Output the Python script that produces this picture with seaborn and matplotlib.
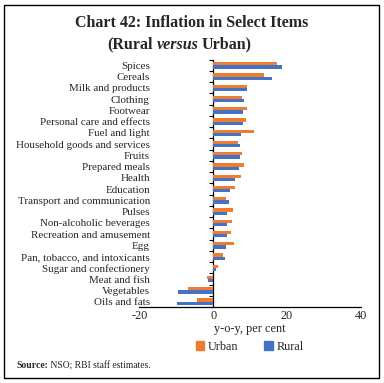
import pandas as pd
import matplotlib.pyplot as plt
import seaborn as sns
from matplotlib.patches import Rectangle

# -----------------------------------------
# Data
# -----------------------------------------
items = ["Spices", "Cereals", "Milk and products", "Clothing", "Footwear",
         "Personal care and effects", "Fuel and light", "Household goods and services",
         "Fruits", "Prepared meals", "Health", "Education", "Transport and communication",
         "Pulses", "Non-alcoholic beverages", "Recreation and amusement", "Egg",
         "Pan, tobacco, and intoxicants", "Sugar and confectionery", "Meat and fish",
         "Vegetables", "Oils and fats"]
urban = [17.2, 13.8, 9.3, 7.9, 9.3, 8.8, 11.2, 6.7, 7.9, 8.3, 7.5, 6.0, 3.6,
         5.4, 5.0, 4.8, 5.7, 2.6, 1.3, -1.7, -6.7, -4.3]
rural = [18.8, 16.1, 9.3, 8.3, 8.1, 8.0, 7.5, 7.3, 7.3, 7.1, 6.0, 4.6, 4.3,
         3.7, 3.7, 3.7, 3.6, 3.2, 0.7, -1.4, -9.6, -9.8]
series = ["Urban", "Rural"]
colors = {"Urban": "#ED7D31", "Rural": "#4472C4"}
xticks = [-20, 0, 20, 40]

df = pd.DataFrame({
    "item": items * 2,
    "value": urban + rural,
    "area": ["Urban"] * len(items) + ["Rural"] * len(items),
})

sns.set_style("white")
plt.rcParams["font.family"] = ["Liberation Serif", "DejaVu Serif"]

fig = plt.figure(figsize=(3.84, 3.83), dpi=100)
ax = fig.add_axes([0.363, 0.198, 0.576, 0.646])

sns.barplot(data=df, y="item", x="value", hue="area", hue_order=series,
            palette=colors, orient="h", width=0.58, gap=0, saturation=1,
            linewidth=0, ax=ax, legend=False)

ax.set_xlim(-20, 40)
ax.set_ylim(len(items) - 0.5, -0.5)
ax.set_xticks(xticks)
ax.set_xticklabels([str(t) for t in xticks], fontsize=8.8)
ax.tick_params(axis="x", length=0, pad=2)
ax.tick_params(axis="y", length=0, pad=-7.5, labelsize=7.9)
ax.set_ylabel("")
ax.set_xlabel("y-o-y, per cent", fontsize=8.8, labelpad=1)
for s in ["top", "right", "left"]:
    ax.spines[s].set_visible(False)
ax.spines["bottom"].set_color("black")
ax.spines["bottom"].set_linewidth(0.9)

# zero line with category boundary ticks
sec = ax.secondary_yaxis(1 / 3)
sec.set_yticks([i - 0.5 for i in range(len(items) + 1)])
sec.tick_params(axis="y", length=3, width=0.8, labelleft=False, labelright=False,
                direction="out", color="black")
sec.spines["left"].set_color("black")
sec.spines["left"].set_linewidth(0.9)

# legend
handles = [plt.Rectangle((0, 0), 1, 1, color=colors[s]) for s in series]
fig.legend(handles, series, loc="center", bbox_to_anchor=(0.65, 0.095), ncol=2,
           frameon=False, fontsize=8.8, handlelength=0.7, handleheight=0.7,
           handletextpad=0.3, columnspacing=2.1, borderaxespad=0)

# title
fig.text(0.5, 0.94, "Chart 42: Inflation in Select Items", ha="center", va="center",
         fontsize=11.5, fontweight="bold")
mid = fig.text(0.462, 0.883, "versus", ha="center", va="center", fontsize=11.5,
               fontweight="bold", style="italic")
ax.annotate("(Rural", xy=(0, 0.5), xycoords=mid, xytext=(-2.5, 0),
            textcoords="offset points", ha="right", va="center",
            fontsize=11.5, fontweight="bold", annotation_clip=False)
ax.annotate("Urban)", xy=(1, 0.5), xycoords=mid, xytext=(2.5, 0),
            textcoords="offset points", ha="left", va="center",
            fontsize=11.5, fontweight="bold", annotation_clip=False)

# source
src = fig.text(0.042, 0.045, "Source:", ha="left", va="center", fontsize=6.9,
               fontweight="bold")
ax.annotate(" NSO; RBI staff estimates.", xy=(1, 0.5), xycoords=src, ha="left",
            va="center", fontsize=6.9, annotation_clip=False)

# outer frame
fig.patches.append(Rectangle((0.011, 0.013), 0.976, 0.975, transform=fig.transFigure,
                             fill=False, edgecolor="black", linewidth=1.0))

fig.savefig("out.png", dpi=100)
plt.close(fig)
